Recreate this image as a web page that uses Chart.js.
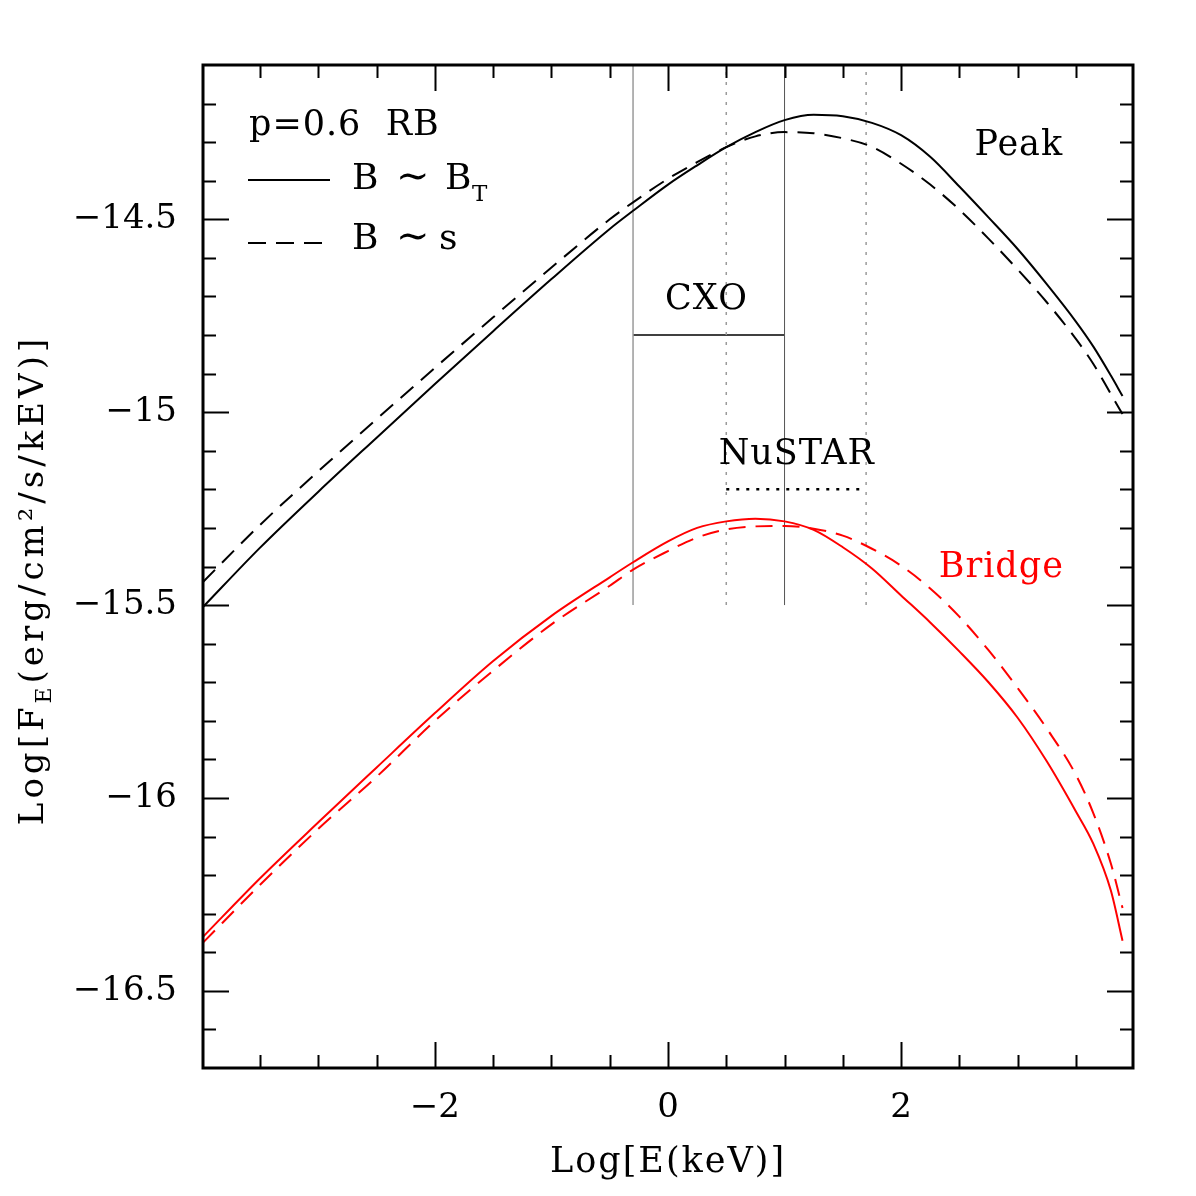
<!DOCTYPE html>
<html>
<head>
<meta charset="utf-8">
<script src="https://cdn.jsdelivr.net/npm/chart.js@4.4.0/dist/chart.umd.min.js"></script>
<style>
    html, body { margin: 0; padding: 0; background: #fff; }
</style>
</head>
<body>
<canvas id="chart" width="1196" height="1196"></canvas>
<script>
// Log E (keV) grid shared by all four curves
const logE = [-3.99, -3.5, -3, -2.5, -2, -1.5, -1, -0.5, -0.3, 0, 0.25, 0.5, 0.75, 1, 1.25, 1.5, 1.75, 2, 2.25, 2.5, 2.75, 3, 3.25, 3.5, 3.65, 3.8, 3.9];

// Peak region
const peakBT = [-15.505, -15.351, -15.206, -15.066, -14.927, -14.79, -14.655, -14.525, -14.478, -14.41, -14.36, -14.313, -14.274, -14.243, -14.229, -14.233, -14.25, -14.282, -14.338, -14.415, -14.495, -14.577, -14.668, -14.765, -14.83, -14.905, -14.958];
const peakS = [-15.44, -15.292, -15.153, -15.018, -14.885, -14.754, -14.625, -14.50, -14.456, -14.395, -14.352, -14.313, -14.285, -14.274, -14.277, -14.29, -14.312, -14.356, -14.41, -14.475, -14.55, -14.63, -14.715, -14.81, -14.875, -14.953, -15.005];

// Bridge region
const bridgeBT = [-16.36, -16.208, -16.063, -15.921, -15.78, -15.645, -15.528, -15.428, -15.389, -15.335, -15.30, -15.283, -15.276, -15.283, -15.305, -15.35, -15.405, -15.475, -15.545, -15.62, -15.70, -15.792, -15.905, -16.035, -16.119, -16.24, -16.37];
const bridgeS = [-16.375, -16.225, -16.08, -15.945, -15.80, -15.67, -15.55, -15.45, -15.408, -15.36, -15.325, -15.304, -15.296, -15.295, -15.302, -15.32, -15.354, -15.398, -15.457, -15.53, -15.617, -15.715, -15.82, -15.94, -16.04, -16.17, -16.285];

// instrument bands
const cxoRange = [-0.3, 1.0];
const cxoLevel = -14.8;
const nustarRange = [0.5, 1.7];
const nustarLevel = -15.2;
const bandBottom = -15.5;

// axes
const xRange = [-3.99, 3.99];
const yRange = [-16.7, -14.1];
const xTicks = [-3.5, -3, -2.5, -2, -1.5, -1, -0.5, 0, 0.5, 1, 1.5, 2, 2.5, 3, 3.5];
const xLabelTicks = [-2, 0, 2];
const yTicks = [-16.6, -16.5, -16.4, -16.3, -16.2, -16.1, -16, -15.9, -15.8, -15.7, -15.6, -15.5, -15.4, -15.3, -15.2, -15.1, -15, -14.9, -14.8, -14.7, -14.6, -14.5, -14.4, -14.3, -14.2];
const yLabelTicks = [-16.5, -16, -15.5, -15, -14.5];

const FONT = "'DejaVu Serif', 'Liberation Serif', serif";

function fmt(v) {
    return (v < 0 ? '\u2212' : '') + Math.abs(v);
}

function curve(ys, color, dash) {
    return {
        data: logE.map((x, i) => ({ x: x, y: ys[i] })),
        showLine: true,
        borderColor: color,
        borderWidth: 2,
        borderDash: dash,
        pointRadius: 0,
        cubicInterpolationMode: 'monotone',
        fill: false
    };
}

function segment(x0, y0, x1, y1, color, width, dash) {
    return {
        data: [{ x: x0, y: y0 }, { x: x1, y: y1 }],
        showLine: true,
        borderColor: color,
        borderWidth: width,
        borderDash: dash,
        pointRadius: 0,
        fill: false
    };
}

const datasets = [
    curve(peakBT, '#000', []),
    curve(peakS, '#000', [17, 10]),
    curve(bridgeBT, '#ff0000', []),
    curve(bridgeS, '#ff0000', [17, 10]),
    segment(cxoRange[0], bandBottom, cxoRange[0], yRange[1], '#9a9a9a', 1.5, []),
    segment(cxoRange[1], bandBottom, cxoRange[1], yRange[1], '#555', 1, []),
    segment(nustarRange[0], bandBottom, nustarRange[0], yRange[1], '#9a9a9a', 1.5, [3, 7]),
    segment(nustarRange[1], bandBottom, nustarRange[1], yRange[1], '#9a9a9a', 1.5, [3, 7]),
    segment(cxoRange[0], cxoLevel, cxoRange[1], cxoLevel, '#000', 1.5, []),
    segment(nustarRange[0], nustarLevel, nustarRange[1], nustarLevel, '#000', 2.5, [3, 7])
];

// labels placed in data coordinates: [text, x, y, color]
const notes = [
    ['CXO', 0.33, -14.733, '#000'],
    ['NuSTAR', 1.105, -15.135, '#000'],
    ['Peak', 3.01, -14.334, '#000'],
    ['Bridge', 2.86, -15.428, '#ff0000']
];

const decor = {
    id: 'decor',
    afterDraw(chart) {
        const ctx = chart.ctx;
        const a = chart.chartArea;
        const xs = chart.scales.x;
        const ys = chart.scales.y;
        ctx.save();

        // inward ticks on all four sides
        ctx.strokeStyle = '#000';
        ctx.lineWidth = 2;
        ctx.beginPath();
        xs.ticks.forEach(t => {
            const px = Math.round(xs.getPixelForValue(t.value)) + 0.5;
            const len = xLabelTicks.includes(t.value) ? 26 : 13;
            ctx.moveTo(px, a.bottom); ctx.lineTo(px, a.bottom - len);
            ctx.moveTo(px, a.top); ctx.lineTo(px, a.top + len);
        });
        ys.ticks.forEach(t => {
            const py = Math.round(ys.getPixelForValue(t.value)) + 0.5;
            const len = yLabelTicks.includes(t.value) ? 26 : 13;
            ctx.moveTo(a.left, py); ctx.lineTo(a.left + len, py);
            ctx.moveTo(a.right, py); ctx.lineTo(a.right - len, py);
        });
        ctx.stroke();

        // frame
        ctx.lineWidth = 3;
        ctx.strokeRect(a.left, a.top, a.right - a.left, a.bottom - a.top);

        // text notes
        ctx.font = '35px ' + FONT;
        ctx.letterSpacing = '1px';
        ctx.textAlign = 'center';
        ctx.textBaseline = 'alphabetic';
        notes.forEach(n => {
            ctx.fillStyle = n[3];
            ctx.fillText(n[0], xs.getPixelForValue(n[1]), ys.getPixelForValue(n[2]));
        });

        // legend box
        const lx = a.left;
        const ly = a.top;
        ctx.fillStyle = '#000';
        ctx.textAlign = 'left';
        ctx.fillText('p=0.6  RB', lx + 46, ly + 70);
        ctx.letterSpacing = '0px';
        ctx.lineWidth = 2;
        ctx.beginPath();
        ctx.moveTo(lx + 45, ly + 115); ctx.lineTo(lx + 127, ly + 115);
        ctx.stroke();
        ctx.setLineDash([18, 10]);
        ctx.beginPath();
        ctx.moveTo(lx + 45, ly + 178); ctx.lineTo(lx + 127, ly + 178);
        ctx.stroke();
        ctx.setLineDash([]);
        ctx.font = '36px ' + FONT;
        ctx.fillText('B', lx + 149, ly + 124);
        ctx.font = '40px ' + FONT;
        ctx.fillText('\u223C', lx + 193, ly + 124);
        ctx.font = '36px ' + FONT;
        ctx.fillText('B', lx + 242, ly + 124);
        ctx.font = '23px ' + FONT;
        ctx.fillText('T', lx + 269, ly + 136);
        ctx.font = '36px ' + FONT;
        ctx.fillText('B', lx + 149, ly + 184);
        ctx.font = '40px ' + FONT;
        ctx.fillText('\u223C', lx + 193, ly + 184);
        ctx.font = '36px ' + FONT;
        ctx.fillText('s', lx + 236, ly + 184);

        // x title
        ctx.textAlign = 'center';
        ctx.font = '35px ' + FONT;
        ctx.letterSpacing = '2px';
        ctx.fillText('Log[E(keV)]', (a.left + a.right) / 2, 1172);

        // y title with subscript
        const part1 = 'Log[F';
        const part2 = '(erg/cm\u00B2/s/kEV)]';
        ctx.letterSpacing = '4px';
        ctx.font = '34px ' + FONT;
        const w1 = ctx.measureText(part1).width;
        const w3 = ctx.measureText(part2).width;
        ctx.font = '22px ' + FONT;
        const w2 = ctx.measureText('E').width;
        const total = w1 + w2 + w3;
        ctx.translate(43, 580);
        ctx.rotate(-Math.PI / 2);
        ctx.textAlign = 'left';
        let sx = -total / 2;
        ctx.font = '34px ' + FONT;
        ctx.fillText(part1, sx, 0);
        sx += w1;
        ctx.font = '22px ' + FONT;
        ctx.fillText('E', sx, 8);
        sx += w2;
        ctx.font = '34px ' + FONT;
        ctx.fillText(part2, sx, 0);

        ctx.restore();
    }
};

new Chart(document.getElementById('chart'), {
    type: 'scatter',
    data: { datasets: datasets },
    options: {
        responsive: false,
        animation: false,
        devicePixelRatio: 1,
        layout: { padding: { top: 65, right: 63, left: 0, bottom: 0 } },
        plugins: { legend: { display: false }, tooltip: { enabled: false } },
        scales: {
            x: {
                type: 'linear',
                min: xRange[0],
                max: xRange[1],
                afterFit: s => { s.height = 128; },
                afterBuildTicks: s => { s.ticks = xTicks.map(v => ({ value: v })); },
                grid: { display: false, drawTicks: false },
                border: { display: false },
                ticks: {
                    autoSkip: false,
                    maxRotation: 0,
                    padding: 20,
                    color: '#000',
                    font: { family: FONT, size: 34 },
                    callback: v => xLabelTicks.includes(v) ? fmt(v) : ''
                }
            },
            y: {
                type: 'linear',
                min: yRange[0],
                max: yRange[1],
                afterFit: s => { s.width = 203; },
                afterBuildTicks: s => { s.ticks = yTicks.map(v => ({ value: v })); },
                grid: { display: false, drawTicks: false },
                border: { display: false },
                ticks: {
                    autoSkip: false,
                    padding: 26,
                    color: '#000',
                    font: { family: FONT, size: 34 },
                    callback: v => yLabelTicks.includes(v) ? fmt(v) : ''
                }
            }
        }
    },
    plugins: [decor]
});
</script>
</body>
</html>
